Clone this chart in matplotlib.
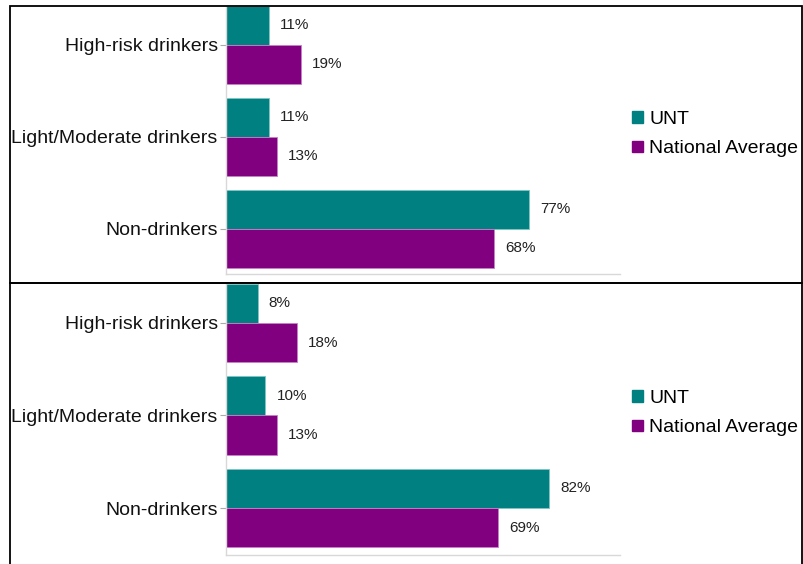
import matplotlib.pyplot as plt
from matplotlib.patches import Rectangle, Patch

plt.rcParams['font.family'] = ['Liberation Sans', 'DejaVu Sans']

categories = ['High-risk drinkers', 'Light/Moderate drinkers', 'Non-drinkers']
series_names = ['UNT', 'National Average']

# two survey periods, one panel each (values in %)
unt_top = [11, 11, 77]
national_top = [19, 13, 68]
unt_bottom = [8, 10, 82]
national_bottom = [18, 13, 69]

teal = '#008080'
purple = '#800080'
W, H = 804, 564

fig = plt.figure(figsize=(W / 100, H / 100), dpi=100)


def panel(ax, unt, national, ylim):
    pos = list(range(len(categories)))[::-1]  # first category on top
    h = 0.424
    ax.barh(pos, unt, height=h, align='edge', color=teal,
            edgecolor='#7fc4c4', linewidth=0.6)
    ax.barh([p - h for p in pos], national, height=h, align='edge',
            color=purple, edgecolor='#c77fc7', linewidth=0.6)
    for p, u, n in zip(pos, unt, national):
        ax.text(u + 2.8, p + h / 2, f'{u}%', va='center', ha='left',
                fontsize=11, color='#222222')
        ax.text(n + 2.8, p - h / 2, f'{n}%', va='center', ha='left',
                fontsize=11, color='#222222')
    ax.set_xlim(0, 100)
    ax.set_ylim(*ylim)
    ax.set_yticks(pos)
    ax.set_yticklabels(categories, fontsize=14, color='#111111')
    ax.set_xticks([])
    ax.tick_params(axis='y', length=4, width=0.8, color='#aaaaaa', pad=2)
    for s in ['top', 'right']:
        ax.spines[s].set_visible(False)
    for s in ['left', 'bottom']:
        ax.spines[s].set_color('#d8d8d8')
        ax.spines[s].set_linewidth(1.0)


def legend(y_px):
    handles = [Patch(color=teal), Patch(color=purple)]
    fig.legend(handles, series_names, loc='center left',
               bbox_to_anchor=(632 / W, 1 - y_px / H), frameon=False,
               fontsize=14, handlelength=0.55, handleheight=0.55,
               handletextpad=0.35, labelspacing=0.66, borderpad=0,
               borderaxespad=0)


# top panel
ax1 = fig.add_axes([226 / W, 1 - 274 / H, 394 / W, 268 / H])
panel(ax1, unt_top, national_top, (-0.49, 2.424))
legend(134)

# bottom panel
ax2 = fig.add_axes([226 / W, 1 - 555 / H, 394 / W, 272 / H])
panel(ax2, unt_bottom, national_bottom, (-0.508, 2.432))
legend(413)

# panel frames
for top_px, bot_px in [(6, 283), (283, 575)]:
    fig.add_artist(Rectangle((10 / W, 1 - bot_px / H), 792 / W,
                             (bot_px - top_px) / H,
                             transform=fig.transFigure, fill=False,
                             edgecolor='black', linewidth=1.3))

fig.savefig('out.png', dpi=100)
